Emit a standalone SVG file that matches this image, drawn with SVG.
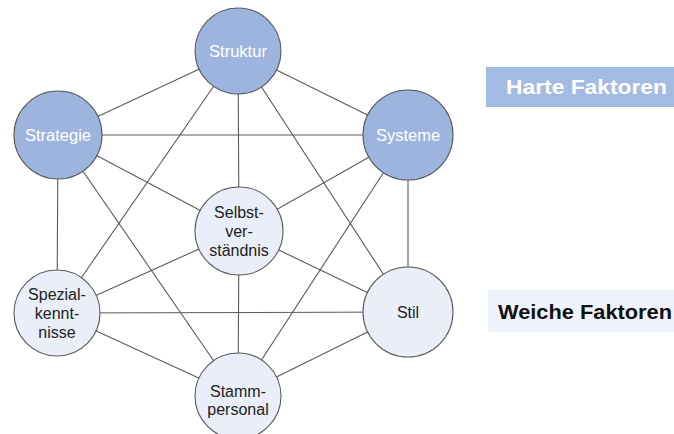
<svg xmlns="http://www.w3.org/2000/svg" width="674" height="434" viewBox="0 0 674 434">
<style>
.e{stroke:#5a5a5a;stroke-width:1.1;fill:none}
.h{fill:#9db5de;stroke:#5a5a5a;stroke-width:1.1}
.s{fill:#e9eef8;stroke:#5a5a5a;stroke-width:1.1}
.th{font-family:"Liberation Sans",Arial,sans-serif;font-size:16.5px;fill:#ffffff;text-anchor:middle}
.ts{font-family:"Liberation Sans",Arial,sans-serif;font-size:16px;fill:#222222;text-anchor:middle}
.lg{font-family:"Liberation Sans",Arial,sans-serif;font-size:21px;font-weight:bold}
</style>
<rect width="674" height="434" fill="#ffffff"/>
<g id="connectors">
<line class="e" x1="238" y1="51" x2="58" y2="135"/>
<line class="e" x1="238" y1="51" x2="408" y2="135"/>
<line class="e" x1="238" y1="51" x2="239" y2="231"/>
<line class="e" x1="238" y1="51" x2="57" y2="313"/>
<line class="e" x1="238" y1="51" x2="408" y2="312"/>
<line class="e" x1="58" y1="135" x2="408" y2="135"/>
<line class="e" x1="58" y1="135" x2="239" y2="231"/>
<line class="e" x1="58" y1="135" x2="57" y2="313"/>
<line class="e" x1="58" y1="135" x2="238" y2="396"/>
<line class="e" x1="408" y1="135" x2="239" y2="231"/>
<line class="e" x1="408" y1="135" x2="408" y2="312"/>
<line class="e" x1="408" y1="135" x2="238" y2="396"/>
<line class="e" x1="239" y1="231" x2="57" y2="313"/>
<line class="e" x1="239" y1="231" x2="408" y2="312"/>
<line class="e" x1="239" y1="231" x2="238" y2="396"/>
<line class="e" x1="57" y1="313" x2="408" y2="312"/>
<line class="e" x1="57" y1="313" x2="238" y2="396"/>
<line class="e" x1="408" y1="312" x2="238" y2="396"/>
</g>
<g id="struktur"><circle class="h" cx="238" cy="51" r="43"/><text class="th" x="238" y="57">Struktur</text></g>
<g id="strategie"><circle class="h" cx="58" cy="135" r="44"/><text class="th" x="58" y="141">Strategie</text></g>
<g id="systeme"><circle class="h" cx="408" cy="135" r="45"/><text class="th" x="408" y="141">Systeme</text></g>
<g id="selbstverstaendnis"><circle class="s" cx="239" cy="231" r="44"/><text class="ts" x="239" y="218">Selbst-</text><text class="ts" x="239" y="237">ver-</text><text class="ts" x="239" y="256">ständnis</text></g>
<g id="spezialkenntnisse"><circle class="s" cx="57" cy="313" r="43"/><text class="ts" x="57" y="300">Spezial-</text><text class="ts" x="57" y="319">kennt-</text><text class="ts" x="57" y="338">nisse</text></g>
<g id="stil"><circle class="s" cx="408" cy="312" r="45"/><text class="ts" x="408" y="318">Stil</text></g>
<g id="stammpersonal"><circle class="s" cx="238" cy="396" r="43"/><text class="ts" x="238" y="397">Stamm-</text><text class="ts" x="238" y="415">personal</text></g>
<g id="harte-faktoren"><rect x="486" y="67" width="188" height="40" fill="#a3bbe2"/><text class="lg" x="506" y="94" fill="#ffffff" textLength="161" lengthAdjust="spacingAndGlyphs">Harte Faktoren</text></g>
<g id="weiche-faktoren"><rect x="488" y="290" width="186" height="42" fill="#eef2fa"/><text class="lg" x="498" y="319" fill="#111111" textLength="174" lengthAdjust="spacingAndGlyphs">Weiche Faktoren</text></g>
</svg>
